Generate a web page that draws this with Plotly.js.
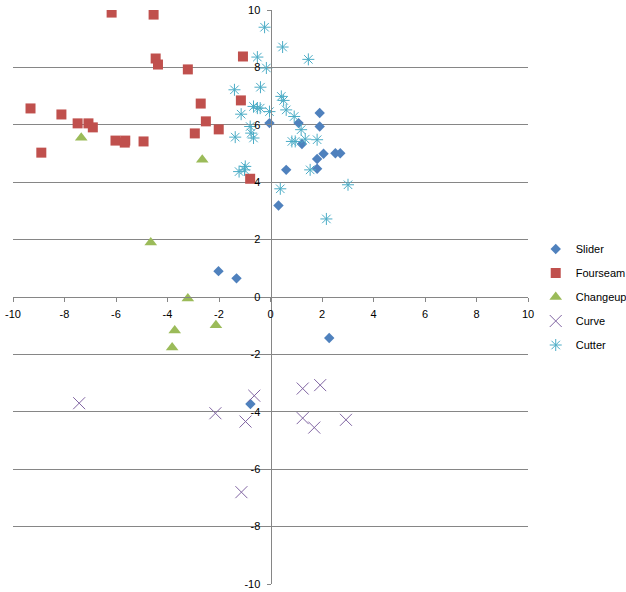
<!DOCTYPE html>
<html>
<head>
<meta charset="utf-8">
<script src="https://cdn.plot.ly/plotly-3.0.1.min.js"></script>
<style>html,body{margin:0;padding:0;background:#fff;}#chart{width:626px;height:592px;}</style>
</head>
<body>
<div id="chart"></div>
<script>
// ---- data ----
const sliderX = [-0.04, 1.09, 1.91, 1.91, 1.22, 2.06, 1.81, 2.52, 2.71, 0.61, 1.81, 0.31, -2.02, -1.32, 2.28, -0.78];
const sliderY = [6.06, 6.06, 6.41, 5.94, 5.33, 4.99, 4.81, 5.01, 5.01, 4.43, 4.47, 3.19, 0.90, 0.65, -1.43, -3.73];

const fourseamX = [-6.17, -4.54, -4.46, -4.37, -3.21, -1.07, -1.15, -2.71, -9.32, -8.12, -7.49, -7.07, -6.90, -2.51, -2.01, -2.94, -6.02, -5.64, -5.66, -4.93, -8.90, -0.79];
const fourseamY = [9.91, 9.84, 8.31, 8.10, 7.93, 8.38, 6.85, 6.74, 6.57, 6.36, 6.05, 6.05, 5.91, 6.12, 5.84, 5.70, 5.45, 5.45, 5.38, 5.42, 5.03, 4.12];

const changeupX = [-7.35, -2.65, -4.65, -3.21, -3.72, -2.12, -3.82];
const changeupY = [5.55, 4.78, 1.90, -0.05, -1.17, -0.98, -1.76];

const curveX = [-7.43, -2.14, -0.63, -0.97, 1.25, 1.93, 1.25, 1.70, 2.93, -1.13];
const curveY = [-3.70, -4.05, -3.44, -4.34, -3.19, -3.07, -4.22, -4.55, -4.28, -6.80];

const cutterX = [-0.23, 0.47, 1.47, -0.51, -0.16, -1.40, -0.39, 0.42, 0.51, -0.66, -0.51, -0.40, -0.04, 0.61, -1.14, 0.92, -0.79, 1.19, -1.37, -0.66, -0.75, 0.83, 0.96, 1.35, 1.81, 1.54, -1.22, -0.98, -1.01, 0.38, 3.01, 2.17];
const cutterY = [9.40, 8.71, 8.28, 8.36, 7.98, 7.22, 7.31, 6.99, 6.85, 6.64, 6.58, 6.58, 6.46, 6.52, 6.37, 6.29, 5.94, 5.83, 5.57, 5.54, 5.71, 5.42, 5.42, 5.50, 5.48, 4.43, 4.37, 4.55, 4.43, 3.77, 3.91, 2.72];

const seriesNames = ["Slider", "Fourseam", "Changeup", "Curve", "Cutter"];
const tickVals = [-10, -8, -6, -4, -2, 0, 2, 4, 6, 8, 10];
const tickText = ["-10", "-8", "-6", "-4", "-2", "0", "2", "4", "6", "8", "10"];

const axisGray = "#868686";
const font = {family: "Liberation Sans, Arial, sans-serif", size: 11, color: "#000"};

function tr(name, x, y, marker, grp) {
  return {type: "scatter", mode: "markers", name: name, x: x, y: y, marker: marker,
          legendgroup: grp, hoverinfo: "x+y+name"};
}

const traces = [
  tr(seriesNames[0], sliderX, sliderY, {symbol: "diamond", size: 8, color: "#4F81BD"}, "g1"),
  tr(seriesNames[1], fourseamX, fourseamY, {symbol: "square", size: 10, color: "#C0504D"}, "g2"),
  tr(seriesNames[2], changeupX, changeupY, {symbol: "triangle-up", size: 11, color: "#9BBB59"}, "g3"),
  tr(seriesNames[3], curveX, curveY, {symbol: "x-thin-open", size: 12, color: "#8064A2", line: {color: "#8064A2", width: 1}}, "g4"),
  tr(seriesNames[4], cutterX, cutterY, {symbol: "asterisk-open", size: 10, color: "#4BACC6", line: {color: "#4BACC6", width: 1}}, "g5")
];

const layout = {
  width: 626, height: 592,
  margin: {l: 13, r: 98, t: 10, b: 8, pad: 0, autoexpand: false},
  paper_bgcolor: "#fff", plot_bgcolor: "#fff",
  font: font,
  showlegend: true,
  legend: {x: 1.015, xanchor: "left", y: 0.5, yanchor: "middle", font: font,
           traceorder: "grouped", tracegroupgap: 5, itemwidth: 30,
           bgcolor: "rgba(0,0,0,0)"},
  xaxis: {range: [-10, 10], domain: [0, 1], anchor: "free", position: 0.5,
          tickmode: "array", tickvals: tickVals, ticktext: tickText,
          showgrid: false, zeroline: false, showline: true, linecolor: axisGray, linewidth: 1,
          ticks: "outside", ticklen: 4, tickcolor: axisGray, tickfont: font,
          ticklabelstandoff: 3, automargin: false, fixedrange: true},
  yaxis: {range: [-10, 10], domain: [0, 1], anchor: "free", position: 0.5,
          tickmode: "array", tickvals: tickVals, ticktext: tickText,
          showgrid: true, gridcolor: axisGray, gridwidth: 1,
          zeroline: false, showline: true, linecolor: axisGray, linewidth: 1,
          ticks: "outside", ticklen: 4, tickcolor: axisGray, tickfont: font,
          ticklabelstandoff: 4, automargin: false, fixedrange: true}
};

Plotly.newPlot("chart", traces, layout, {displayModeBar: false, staticPlot: true});
</script>
</body>
</html>
